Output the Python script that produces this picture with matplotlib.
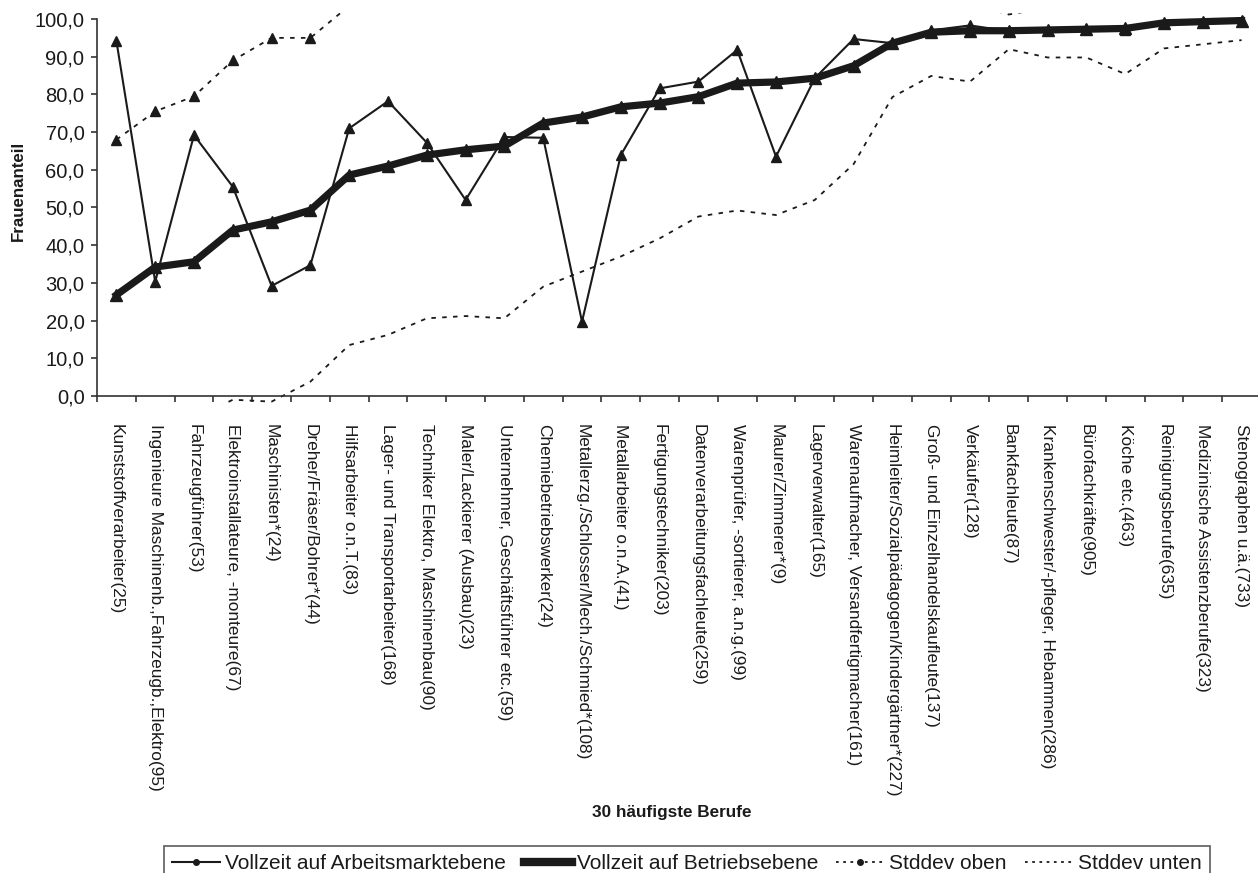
import matplotlib
matplotlib.use("Agg")
import matplotlib.pyplot as plt
from matplotlib.lines import Line2D
from matplotlib.ticker import FixedLocator, FuncFormatter

berufe = [
    "Kunststoffverarbeiter(25)",
    "Ingenieure Maschinenb.,Fahrzeugb.,Elektro(95)",
    "Fahrzeugführer(53)",
    "Elektroinstallateure, -monteure(67)",
    "Maschinisten*(24)",
    "Dreher/Fräser/Bohrer*(44)",
    "Hilfsarbeiter o.n.T.(83)",
    "Lager- und Transportarbeiter(168)",
    "Techniker Elektro, Maschinenbau(90)",
    "Maler/Lackierer (Ausbau)(23)",
    "Unternehmer, Geschäftsführer etc.(59)",
    "Chemiebetriebswerker(24)",
    "Metallerzg./Schlosser/Mech./Schmied*(108)",
    "Metallarbeiter o.n.A.(41)",
    "Fertigungstechniker(203)",
    "Datenverarbeitungsfachleute(259)",
    "Warenprüfer, -sortierer, a.n.g.(99)",
    "Maurer/Zimmerer*(9)",
    "Lagerverwalter(165)",
    "Warenaufmacher, Versandfertigmacher(161)",
    "Heimleiter/Sozialpädagogen/Kindergärtner*(227)",
    "Groß- und Einzelhandelskaufleute(137)",
    "Verkäufer(128)",
    "Bankfachleute(87)",
    "Krankenschwester/-pfleger, Hebammen(286)",
    "Bürofachkräfte(905)",
    "Köche etc.(463)",
    "Reinigungsberufe(635)",
    "Medizinische Assistenzberufe(323)",
    "Stenographen u.ä.(733)",
]

arbeitsmarkt = [94.2, 30.3, 69.2, 55.5, 29.2, 34.7, 71.0, 78.2, 67.2, 52.0,
                68.7, 68.5, 19.7, 63.9, 81.6, 83.4, 91.8, 63.5, 84.3, 94.7,
                93.6, 97.0, 98.3, 96.8, 97.1, 97.3, 97.2, 99.0, 99.3, 99.6]

betrieb = [26.8, 34.2, 35.6, 44.0, 46.2, 49.3, 58.6, 61.0, 63.9, 65.3,
           66.3, 72.4, 74.0, 76.7, 77.7, 79.4, 83.0, 83.3, 84.3, 87.6,
           93.6, 96.5, 96.9, 96.9, 97.1, 97.3, 97.5, 99.0, 99.3, 99.6]

# values above the visible range are only roughly guessed
stddev_oben = [68.0, 75.5, 79.5, 89.0, 95.0, 95.0, 103.5, 108, 112, 115,
               118, 120, 122, 123, 122, 120, 118, 115, 112, 110,
               108, 106, 104, 101.2, 103, 106, 107, 108, 108, 108]

stddev_unten = [-12.0, -9.0, -6.0, -1.0, -1.5, 3.8, 13.5, 16.2, 20.6, 21.2,
                20.6, 29.0, 33.0, 37.0, 41.8, 47.6, 49.2, 48.0, 52.0, 61.5,
                79.3, 84.9, 83.4, 92.0, 89.8, 89.8, 85.4, 92.2, 93.3, 94.4]

yticks = list(range(0, 101, 10))

font = ["Liberation Sans", "DejaVu Sans"]
ink = "#1a1a1a"

W, H = 1258, 873
fig = plt.figure(figsize=(W / 100, H / 100), dpi=100)
ax = fig.add_axes([97 / W, (H - 403.5) / H, 1164 / W, (403.5 - 13) / H])

x = list(range(len(berufe)))
sichtbar = [i for i, v in enumerate(stddev_oben) if v <= 100]

ax.plot(x, stddev_unten, color=ink, lw=1.3, ls=(0, (2.5, 3.5)))
ax.plot(x, stddev_oben, color=ink, lw=1.3, ls=(0, (2.5, 3.5)),
        marker="^", ms=6.5, mfc=ink, mec=ink, markevery=sichtbar)
ax.plot(x, betrieb, color=ink, lw=5.2, marker="^", ms=9, mfc=ink, mec=ink,
        solid_joinstyle="round")
ax.plot(x, arbeitsmarkt, color=ink, lw=1.5, marker="^", ms=6.5, mfc=ink, mec=ink)

ax.set_xlim(-0.5, 29.5)
ax.set_ylim(-2, 101.6)

for side in ["top", "right"]:
    ax.spines[side].set_visible(False)
ax.spines["left"].set_bounds(0, 100)
ax.spines["bottom"].set_position(("data", 0))
for side in ["left", "bottom"]:
    ax.spines[side].set_color("#333333")
    ax.spines[side].set_linewidth(1.2)

ax.set_yticks(yticks)
ax.yaxis.set_major_formatter(FuncFormatter(lambda v, p: f"{v:.1f}".replace(".", ",")))
ax.tick_params(axis="y", direction="out", length=4, width=1.2, color="#333333",
               pad=5, labelsize=14.5, labelcolor=ink)
for t in ax.get_yticklabels():
    t.set_family(font)

ax.set_xticks(x)
ax.set_xticklabels(berufe, rotation=270, ha="center", va="top",
                   family=font, fontsize=12.4, color=ink)
ax.xaxis.set_minor_locator(FixedLocator([i - 0.5 for i in range(len(berufe) + 1)]))
ax.tick_params(axis="x", which="major", length=0, pad=20)
ax.tick_params(axis="x", which="minor", direction="out", length=4, width=1.2,
               color="#333333")

fig.text(18 / W, 1 - 191 / H, "Frauenanteil", rotation=90, ha="center", va="center",
         family=font, fontweight="bold", fontsize=12.2, color=ink)
fig.text(672 / W, 1 - 813 / H, "30 häufigste Berufe", ha="center", va="center",
         family=font, fontweight="bold", fontsize=12.3, color=ink)

handles = [
    Line2D([], [], color=ink, lw=1.5, marker="o", ms=4),
    Line2D([], [], color=ink, lw=6, marker="o", ms=4),
    Line2D([], [], color=ink, lw=1.3, ls=(0, (1.5, 2.5)), marker="o", ms=4),
    Line2D([], [], color=ink, lw=1.3, ls=(0, (1.5, 2.5))),
]
names = ["Vollzeit auf Arbeitsmarktebene", "Vollzeit auf Betriebsebene",
         "Stddev oben", "Stddev unten"]
leg = fig.legend(handles, names, loc="upper left", bbox_to_anchor=(164 / W, 27 / H),
                 ncol=4, frameon=True, fancybox=False, edgecolor="#333333",
                 prop={"family": font, "size": 15}, handlelength=2.3,
                 handletextpad=0.25, columnspacing=0.85, borderpad=0.4,
                 borderaxespad=0)
leg.get_frame().set_linewidth(1.2)
for t in leg.get_texts():
    t.set_color(ink)

fig.savefig("out.png", dpi=100)
